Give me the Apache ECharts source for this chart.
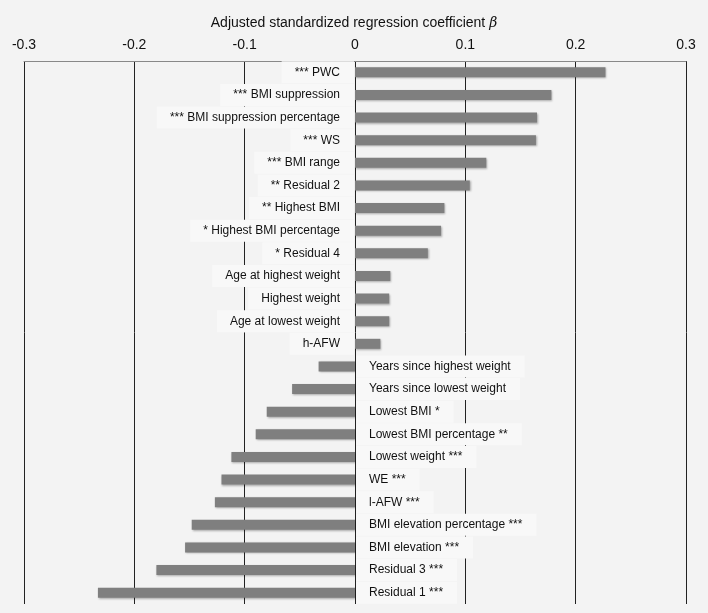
<!DOCTYPE html>
<html>
<head>
<meta charset="utf-8">
<script src="https://cdn.jsdelivr.net/npm/echarts@6/dist/echarts.min.js"></script>
<style>
html,body{margin:0;padding:0;background:#f3f3f3;}
#chart{width:708px;height:613px;}
</style>
</head>
<body>
<div id="chart"></div>
<script>
const categories = [
  "*** PWC",
  "*** BMI suppression",
  "*** BMI suppression percentage",
  "*** WS",
  "*** BMI range",
  "** Residual 2",
  "** Highest BMI",
  "* Highest BMI percentage",
  "* Residual 4",
  "Age at highest weight",
  "Highest weight",
  "Age at lowest weight",
  "h-AFW",
  "Years since highest weight",
  "Years since lowest weight",
  "Lowest BMI *",
  "Lowest BMI percentage **",
  "Lowest weight ***",
  "WE ***",
  "l-AFW ***",
  "BMI elevation percentage ***",
  "BMI elevation ***",
  "Residual 3 ***",
  "Residual 1 ***"
];
const values = [
  0.227, 0.178, 0.165, 0.164, 0.119, 0.104, 0.081, 0.078, 0.066,
  0.032, 0.031, 0.031, 0.023,
  -0.033, -0.057, -0.080, -0.090, -0.112, -0.121, -0.127,
  -0.148, -0.154, -0.180, -0.233
];
const xTicks = { min: -0.3, max: 0.3, interval: 0.1 };
const axisTitle = "Adjusted standardized regression coefficient ";

const FONT = "'Liberation Sans', Arial, Helvetica, sans-serif";
const chart = echarts.init(document.getElementById('chart'), null, { renderer: 'canvas' });

const data = values.map(v => ({
  value: v,
  label: v >= 0
    ? { position: 'left', padding: [4, 14, 4, 13] }
    : { position: 'right', padding: [4, 14, 4, 13] }
}));

chart.setOption({
  backgroundColor: '#f3f3f3',
  animation: false,
  title: {
    text: '{a|' + axisTitle + '}{b|β}',
    left: 'center',
    top: 11,
    textStyle: {
      rich: {
        a: { fontFamily: FONT, fontSize: 14, fontWeight: 'normal', color: '#111' },
        b: { fontFamily: 'DejaVu Serif, serif', fontStyle: 'italic', fontWeight: 'normal', fontSize: 14, color: '#111' }
      }
    }
  },
  grid: { left: 24, right: 22, top: 61, bottom: 9 },
  xAxis: {
    type: 'value',
    position: 'top',
    min: xTicks.min,
    max: xTicks.max,
    interval: xTicks.interval,
    axisLine: { show: true, lineStyle: { color: '#888', width: 1 } },
    axisTick: { show: false },
    axisLabel: {
      fontFamily: FONT,
      fontSize: 14,
      color: '#111',
      margin: 9,
      formatter: v => Math.abs(v) < 1e-9 ? '0' : v.toFixed(1)
    },
    splitLine: { show: true, lineStyle: { color: '#222', width: 1 } }
  },
  yAxis: {
    type: 'category',
    data: categories,
    inverse: true,
    show: false
  },
  series: [{
    type: 'bar',
    data: data,
    barWidth: 10,
    itemStyle: {
      color: '#7f7f7f',
      shadowColor: 'rgba(0,0,0,0.3)',
      shadowBlur: 2,
      shadowOffsetX: 1,
      shadowOffsetY: 1
    },
    label: {
      show: true,
      formatter: '{b}',
      distance: 1,
      fontFamily: FONT,
      fontSize: 12,
      lineHeight: 14,
      color: '#111',
      backgroundColor: '#f8f8f8'
    }
  }]
});
</script>
</body>
</html>
